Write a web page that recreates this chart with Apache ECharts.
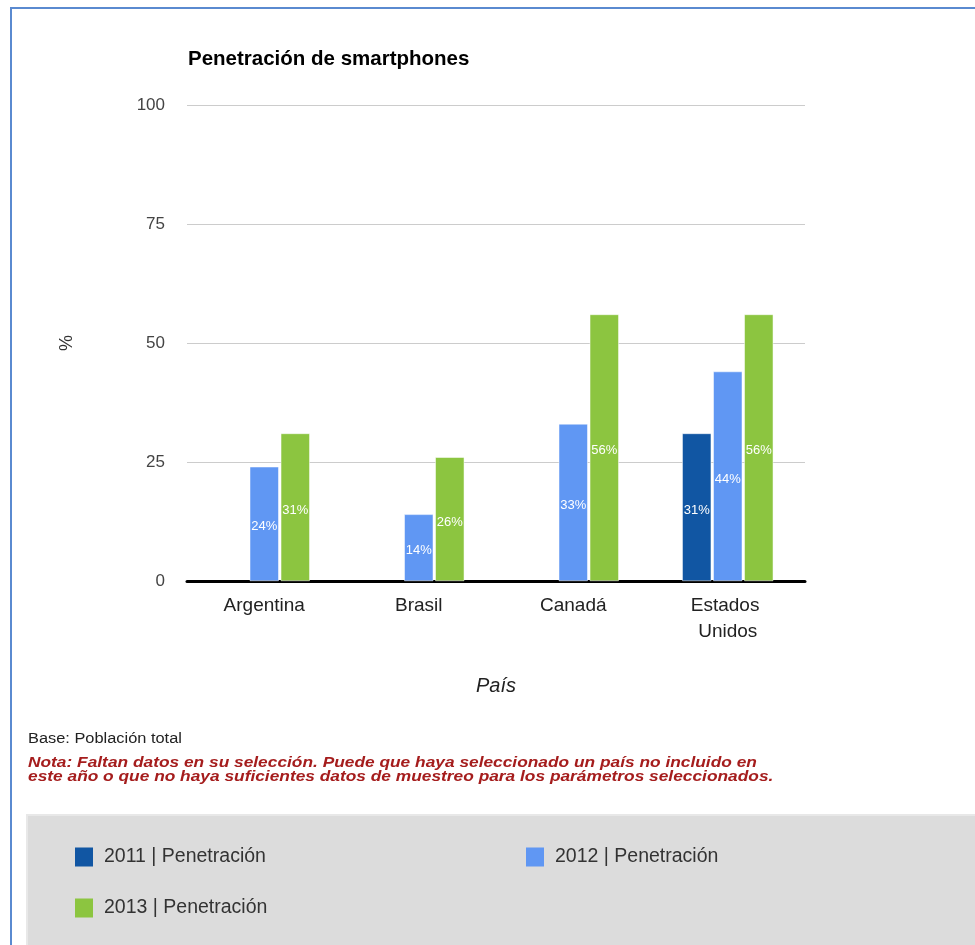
<!DOCTYPE html>
<html>
<head>
<meta charset="utf-8">
<script src="https://cdn.jsdelivr.net/npm/echarts@6/dist/echarts.min.js"></script>
<style>
  html, body { margin: 0; padding: 0; background: #fff; }
  #chart { width: 975px; height: 945px; }
</style>
</head>
<body>
<div id="chart"></div>
<script>
// Smartphone penetration by country and year (%)
const countries = ['Argentina', 'Brasil', 'Canadá', 'Estados Unidos'];
const years = ['2011 | Penetración', '2012 | Penetración', '2013 | Penetración'];
const pen2011 = [null, null, null, 31];
const pen2012 = [24, 14, 33, 44];
const pen2013 = [31, 26, 56, 56];
const yTicks = [0, 25, 50, 75, 100];

const colors = ['#1156a3', '#6097f3', '#8cc540'];
const FONT = "'Liberation Sans', Arial, sans-serif";

const chart = echarts.init(document.getElementById('chart'), null, { renderer: 'canvas' });

function barSeries(name, data, color) {
  return {
    name: name,
    type: 'bar',
    data: data,
    barWidth: 29,
    barGap: '7%',
    itemStyle: { color: color, borderColor: '#ffffff', borderWidth: 0.5 },
    label: {
      show: true,
      position: 'inside',
      offset: [0, 3],
      color: '#ffffff',
      fontFamily: FONT,
      fontSize: 13,
      formatter: p => p.value + '%'
    }
  };
}

function legendAt(name, left, top) {
  return {
    data: [name],
    left: left,
    top: top,
    padding: 0,
    icon: 'rect',
    itemWidth: 18,
    itemHeight: 19,
    itemGap: 0,
    selectedMode: false,
    itemStyle: { borderWidth: 0 },
    textStyle: { fontFamily: FONT, fontSize: 19.5, color: '#333', padding: [0, 0, 0, 6] }
  };
}

chart.setOption({
  animation: false,
  color: colors,
  title: {
    text: 'Penetración de smartphones',
    left: 183,
    top: 44,
    textStyle: { fontFamily: FONT, fontSize: 20.5, fontWeight: 'bold', color: '#000' }
  },
  grid: { left: 187, right: 170, top: 105, bottom: 364 },
  xAxis: {
    type: 'category',
    data: countries,
    name: 'País',
    nameLocation: 'middle',
    nameGap: 95,
    nameTextStyle: { fontFamily: FONT, fontSize: 20, fontStyle: 'italic', color: '#222' },
    axisLine: { show: true, lineStyle: { color: '#000', width: 3 } },
    axisTick: { show: false },
    axisLabel: {
      interval: 0,
      fontFamily: FONT,
      fontSize: 19,
      color: '#222',
      margin: 12,
      width: 110,
      overflow: 'break',
      lineHeight: 26
    }
  },
  yAxis: {
    type: 'value',
    min: yTicks[0],
    max: yTicks[yTicks.length - 1],
    interval: yTicks[1] - yTicks[0],
    name: '%',
    nameLocation: 'middle',
    nameRotate: 90,
    nameGap: 111,
    nameTextStyle: { fontFamily: FONT, fontSize: 18, color: '#333' },
    axisLine: { show: false },
    axisTick: { show: false },
    axisLabel: { fontFamily: FONT, fontSize: 17, color: '#444', margin: 22 },
    splitLine: { lineStyle: { color: '#cccccc', width: 1 } }
  },
  legend: [
    legendAt(years[0], 75, 847),
    legendAt(years[1], 526, 847),
    legendAt(years[2], 75, 898)
  ],
  graphic: [
    {
      type: 'rect', z: -10, silent: true,
      shape: { x: 11, y: 8, width: 980, height: 950 },
      style: { fill: 'none', stroke: '#5a8ad0', lineWidth: 2 }
    },
    {
      type: 'rect', z: -10, silent: true,
      shape: { x: 27, y: 815, width: 960, height: 140 },
      style: { fill: '#dcdcdc', stroke: '#e8e8e8', lineWidth: 2 }
    },
    {
      type: 'text', x: 28, y: 732, scaleX: 1.17, silent: true,
      style: { text: 'Base: Población total', fontFamily: FONT, fontSize: 14, fill: '#222' }
    },
    {
      type: 'text', x: 28, y: 756, scaleX: 1.195, silent: true,
      style: {
        text: 'Nota: Faltan datos en su selección. Puede que haya seleccionado un país no incluido en\neste año o que no haya suficientes datos de muestreo para los parámetros seleccionados.',
        fontFamily: FONT, fontSize: 14.5, fontStyle: 'italic', fontWeight: 'bold',
        lineHeight: 14, fill: '#a51d1d'
      }
    }
  ],
  series: [
    barSeries(years[0], pen2011, colors[0]),
    barSeries(years[1], pen2012, colors[1]),
    barSeries(years[2], pen2013, colors[2])
  ]
});
</script>
</body>
</html>
